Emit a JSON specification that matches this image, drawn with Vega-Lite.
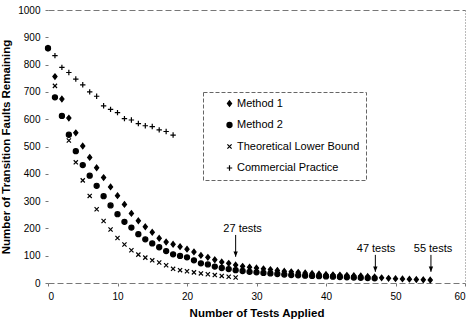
{
  "$schema": "https://vega.github.io/schema/vega-lite/v6.json",
  "width": 417,
  "height": 273,
  "autosize": "none",
  "padding": {"left": 48, "top": 10, "right": 4, "bottom": 37},
  "config": {
    "view": {"stroke": null},
    "font": "Liberation Sans",
    "legend": {"strokeDash": [4, 2]}
  },
  "datasets": {
    "points": [
      {"tests":0,"faults":860,"series":"Method 1"},{"tests":1,"faults":756,"series":"Method 1"},{"tests":2,"faults":674,"series":"Method 1"},{"tests":3,"faults":604,"series":"Method 1"},{"tests":4,"faults":550,"series":"Method 1"},{"tests":5,"faults":502,"series":"Method 1"},{"tests":6,"faults":460,"series":"Method 1"},{"tests":7,"faults":422,"series":"Method 1"},{"tests":8,"faults":386,"series":"Method 1"},{"tests":9,"faults":352,"series":"Method 1"},{"tests":10,"faults":320,"series":"Method 1"},{"tests":11,"faults":288,"series":"Method 1"},{"tests":12,"faults":255,"series":"Method 1"},{"tests":13,"faults":228,"series":"Method 1"},{"tests":14,"faults":206,"series":"Method 1"},{"tests":15,"faults":186,"series":"Method 1"},{"tests":16,"faults":164,"series":"Method 1"},{"tests":17,"faults":150,"series":"Method 1"},{"tests":18,"faults":142,"series":"Method 1"},{"tests":19,"faults":133,"series":"Method 1"},{"tests":20,"faults":124,"series":"Method 1"},{"tests":21,"faults":114,"series":"Method 1"},{"tests":22,"faults":101,"series":"Method 1"},{"tests":23,"faults":94,"series":"Method 1"},{"tests":24,"faults":85,"series":"Method 1"},{"tests":25,"faults":77,"series":"Method 1"},{"tests":26,"faults":72,"series":"Method 1"},{"tests":27,"faults":66,"series":"Method 1"},{"tests":28,"faults":61,"series":"Method 1"},{"tests":29,"faults":58,"series":"Method 1"},{"tests":30,"faults":55,"series":"Method 1"},{"tests":31,"faults":52,"series":"Method 1"},{"tests":32,"faults":49,"series":"Method 1"},{"tests":33,"faults":46,"series":"Method 1"},{"tests":34,"faults":43,"series":"Method 1"},{"tests":35,"faults":41,"series":"Method 1"},{"tests":36,"faults":39,"series":"Method 1"},{"tests":37,"faults":37,"series":"Method 1"},{"tests":38,"faults":35,"series":"Method 1"},{"tests":39,"faults":33,"series":"Method 1"},{"tests":40,"faults":31,"series":"Method 1"},{"tests":41,"faults":30,"series":"Method 1"},{"tests":42,"faults":29,"series":"Method 1"},{"tests":43,"faults":28,"series":"Method 1"},{"tests":44,"faults":27,"series":"Method 1"},{"tests":45,"faults":26,"series":"Method 1"},{"tests":46,"faults":24,"series":"Method 1"},{"tests":47,"faults":22,"series":"Method 1"},{"tests":48,"faults":19,"series":"Method 1"},{"tests":49,"faults":17,"series":"Method 1"},{"tests":50,"faults":16,"series":"Method 1"},{"tests":51,"faults":15,"series":"Method 1"},{"tests":52,"faults":14,"series":"Method 1"},{"tests":53,"faults":13,"series":"Method 1"},{"tests":54,"faults":12,"series":"Method 1"},{"tests":55,"faults":11,"series":"Method 1"},
      {"tests":0,"faults":860,"series":"Method 2"},{"tests":1,"faults":680,"series":"Method 2"},{"tests":2,"faults":612,"series":"Method 2"},{"tests":3,"faults":543,"series":"Method 2"},{"tests":4,"faults":483,"series":"Method 2"},{"tests":5,"faults":432,"series":"Method 2"},{"tests":6,"faults":393,"series":"Method 2"},{"tests":7,"faults":356,"series":"Method 2"},{"tests":8,"faults":318,"series":"Method 2"},{"tests":9,"faults":284,"series":"Method 2"},{"tests":10,"faults":252,"series":"Method 2"},{"tests":11,"faults":224,"series":"Method 2"},{"tests":12,"faults":203,"series":"Method 2"},{"tests":13,"faults":179,"series":"Method 2"},{"tests":14,"faults":160,"series":"Method 2"},{"tests":15,"faults":145,"series":"Method 2"},{"tests":16,"faults":131,"series":"Method 2"},{"tests":17,"faults":117,"series":"Method 2"},{"tests":18,"faults":105,"series":"Method 2"},{"tests":19,"faults":99,"series":"Method 2"},{"tests":20,"faults":94,"series":"Method 2"},{"tests":21,"faults":83,"series":"Method 2"},{"tests":22,"faults":72,"series":"Method 2"},{"tests":23,"faults":68,"series":"Method 2"},{"tests":24,"faults":60,"series":"Method 2"},{"tests":25,"faults":55,"series":"Method 2"},{"tests":26,"faults":51,"series":"Method 2"},{"tests":27,"faults":47,"series":"Method 2"},{"tests":28,"faults":44,"series":"Method 2"},{"tests":29,"faults":41,"series":"Method 2"},{"tests":30,"faults":39,"series":"Method 2"},{"tests":31,"faults":37,"series":"Method 2"},{"tests":32,"faults":35,"series":"Method 2"},{"tests":33,"faults":33,"series":"Method 2"},{"tests":34,"faults":31,"series":"Method 2"},{"tests":35,"faults":29,"series":"Method 2"},{"tests":36,"faults":28,"series":"Method 2"},{"tests":37,"faults":27,"series":"Method 2"},{"tests":38,"faults":26,"series":"Method 2"},{"tests":39,"faults":25,"series":"Method 2"},{"tests":40,"faults":24,"series":"Method 2"},{"tests":41,"faults":23,"series":"Method 2"},{"tests":42,"faults":22,"series":"Method 2"},{"tests":43,"faults":21,"series":"Method 2"},{"tests":44,"faults":20,"series":"Method 2"},{"tests":45,"faults":19,"series":"Method 2"},{"tests":46,"faults":18,"series":"Method 2"},{"tests":47,"faults":17,"series":"Method 2"},
      {"tests":0,"faults":860,"series":"Theoretical Lower Bound"},{"tests":1,"faults":722,"series":"Theoretical Lower Bound"},{"tests":2,"faults":612,"series":"Theoretical Lower Bound"},{"tests":3,"faults":522,"series":"Theoretical Lower Bound"},{"tests":4,"faults":442,"series":"Theoretical Lower Bound"},{"tests":5,"faults":376,"series":"Theoretical Lower Bound"},{"tests":6,"faults":319,"series":"Theoretical Lower Bound"},{"tests":7,"faults":270,"series":"Theoretical Lower Bound"},{"tests":8,"faults":227,"series":"Theoretical Lower Bound"},{"tests":9,"faults":196,"series":"Theoretical Lower Bound"},{"tests":10,"faults":165,"series":"Theoretical Lower Bound"},{"tests":11,"faults":141,"series":"Theoretical Lower Bound"},{"tests":12,"faults":120,"series":"Theoretical Lower Bound"},{"tests":13,"faults":104,"series":"Theoretical Lower Bound"},{"tests":14,"faults":93,"series":"Theoretical Lower Bound"},{"tests":15,"faults":83,"series":"Theoretical Lower Bound"},{"tests":16,"faults":75,"series":"Theoretical Lower Bound"},{"tests":17,"faults":65,"series":"Theoretical Lower Bound"},{"tests":18,"faults":52,"series":"Theoretical Lower Bound"},{"tests":19,"faults":47,"series":"Theoretical Lower Bound"},{"tests":20,"faults":43,"series":"Theoretical Lower Bound"},{"tests":21,"faults":39,"series":"Theoretical Lower Bound"},{"tests":22,"faults":35,"series":"Theoretical Lower Bound"},{"tests":23,"faults":32,"series":"Theoretical Lower Bound"},{"tests":24,"faults":29,"series":"Theoretical Lower Bound"},{"tests":25,"faults":26,"series":"Theoretical Lower Bound"},{"tests":26,"faults":23,"series":"Theoretical Lower Bound"},{"tests":27,"faults":20,"series":"Theoretical Lower Bound"},
      {"tests":0,"faults":860,"series":"Commercial Practice"},{"tests":1,"faults":833,"series":"Commercial Practice"},{"tests":2,"faults":790,"series":"Commercial Practice"},{"tests":3,"faults":771,"series":"Commercial Practice"},{"tests":4,"faults":747,"series":"Commercial Practice"},{"tests":5,"faults":726,"series":"Commercial Practice"},{"tests":6,"faults":700,"series":"Commercial Practice"},{"tests":7,"faults":684,"series":"Commercial Practice"},{"tests":8,"faults":649,"series":"Commercial Practice"},{"tests":9,"faults":636,"series":"Commercial Practice"},{"tests":10,"faults":624,"series":"Commercial Practice"},{"tests":11,"faults":602,"series":"Commercial Practice"},{"tests":12,"faults":597,"series":"Commercial Practice"},{"tests":13,"faults":584,"series":"Commercial Practice"},{"tests":14,"faults":576,"series":"Commercial Practice"},{"tests":15,"faults":573,"series":"Commercial Practice"},{"tests":16,"faults":561,"series":"Commercial Practice"},{"tests":17,"faults":555,"series":"Commercial Practice"},{"tests":18,"faults":542,"series":"Commercial Practice"}
    ],
    "notes": [
      {"tx":28,"ty":197,"ax":27,"ytop":176,"ybot":96,"label":"27 tests"},
      {"tx":47.2,"ty":123,"ax":47.1,"ytop":103,"ybot":41,"label":"47 tests"},
      {"tx":55.4,"ty":123,"ax":55.1,"ytop":103,"ybot":41,"label":"55 tests"}
    ]
  },
  "encoding": {
    "x": {
      "type": "quantitative",
      "scale": {"domain": [0, 60], "nice": false, "zero": false},
      "axis": {
        "values": [0, 10, 20, 30, 40, 50, 60],
        "tickCount": 12,
        "format": "d",
        "labelOverlap": false,
        "title": "Number of Tests Applied",
        "titleFontWeight": "bold", "titleFontSize": 11.5, "titleColor": "black", "titlePadding": 6,
        "labelFontSize": 10, "labelColor": "black", "labelPadding": 5,
        "tickSize": 3, "tickColor": "#777",
        "domainColor": "#777", "domainDash": [6, 3],
        "grid": true, "gridColor": "#777", "gridDash": [1, 2],
        "gridOpacity": {"condition": {"test": "datum.value === 60", "value": 1}, "value": 0}
      }
    },
    "y": {
      "type": "quantitative",
      "scale": {"domain": [0, 1000], "nice": false},
      "axis": {
        "values": [0, 100, 200, 300, 400, 500, 600, 700, 800, 900, 1000],
        "tickCount": 20,
        "format": "d",
        "labelOverlap": false,
        "title": "Number of Transition Faults Remaining",
        "titleFontWeight": "bold", "titleFontSize": 11.5, "titleColor": "black", "titlePadding": 6,
        "labelFontSize": 10, "labelColor": "black", "labelPadding": 5,
        "tickSize": 3, "tickColor": "#777",
        "domain": false,
        "grid": true, "gridColor": "#777", "gridDash": [6, 3],
        "gridOpacity": {"condition": {"test": "datum.value === 1000", "value": 1}, "value": 0}
      }
    }
  },
  "layer": [
    {
      "data": {"name": "points"},
      "mark": {"type": "point", "filled": true, "fill": "black", "stroke": "black", "strokeWidth": 1.2, "opacity": 1, "size": 36},
      "encoding": {
        "x": {"field": "tests"},
        "y": {"field": "faults"},
        "shape": {
          "field": "series", "type": "nominal",
          "scale": {
            "domain": ["Method 1", "Method 2", "Theoretical Lower Bound", "Commercial Practice"],
            "range": ["M0,-0.9L0.7,0L0,0.9L-0.7,0Z", "M-0.85,0A0.85,0.85 0 1,0 0.85,0A0.85,0.85 0 1,0 -0.85,0Z", "M-0.7,-0.7L0.7,0.7M-0.7,0.7L0.7,-0.7", "M-0.9,0L0.9,0M0,-0.9L0,0.9"]
          },
          "legend": {
            "orient": "none", "legendX": 155, "legendY": 82,
            "title": null,
            "labelFontSize": 11, "labelColor": "black", "labelOffset": 2,
            "strokeColor": "#666", "padding": 6, "rowPadding": 9.5,
            "symbolOffset": 15, "symbolSize": 36, "symbolStrokeWidth": 1.2
          }
        }
      }
    },
    {
      "data": {"name": "notes"},
      "mark": {"type": "rule", "color": "black", "strokeWidth": 1},
      "encoding": {
        "x": {"field": "ax"},
        "y": {"field": "ytop"},
        "y2": {"field": "ybot"}
      }
    },
    {
      "data": {"name": "notes"},
      "mark": {"type": "point", "shape": "M-1.1,-2.6L1.1,-2.6L0,0Z", "size": 16, "filled": true, "color": "black", "opacity": 1},
      "encoding": {
        "x": {"field": "ax"},
        "y": {"field": "ybot"}
      }
    },
    {
      "data": {"name": "notes"},
      "mark": {"type": "text", "fontSize": 11, "color": "black", "baseline": "middle", "align": "center"},
      "encoding": {
        "x": {"field": "tx"},
        "y": {"field": "ty"},
        "text": {"field": "label"}
      }
    }
  ]
}
